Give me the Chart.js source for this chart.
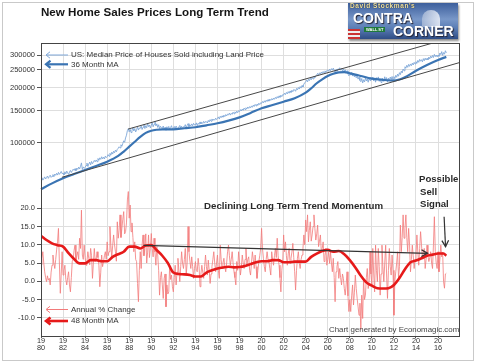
<!DOCTYPE html>
<html>
<head>
<meta charset="utf-8">
<script src="https://cdn.jsdelivr.net/npm/chart.js@4.4.1/dist/chart.umd.min.js"></script>
<style>
  body { margin: 0; background: #fff; }
  #wrap { position: relative; width: 480px; height: 364px; overflow: hidden; font-family: "Liberation Sans", Arial, sans-serif; }
  #chart { position: absolute; left: 0; top: 0; }
  .frame { position: absolute; left: 2px; top: 2px; width: 472px; height: 359px; border: 1px solid #c9c9c9; box-sizing: border-box; pointer-events: none; }
  .title { position: absolute; left: 41px; top: 5px; font-weight: bold; font-size: 11.6px; line-height: 14px; color: #151515; white-space: nowrap; }
  .logo { position: absolute; left: 348px; top: 3px; width: 110px; height: 36px; overflow: hidden;
          background: linear-gradient(180deg, #3d5f9c 0%, #7897c8 45%, #5a7db5 70%, #2f4d85 100%);
          box-shadow: 1px 2px 2px rgba(0,0,0,0.45); }
  .logo span { position: absolute; white-space: nowrap; font-weight: bold; }
  .logo .dome { left: 74px; top: 7px; width: 18px; height: 17px; border-radius: 50% 50% 8% 8%; background: linear-gradient(90deg, rgba(200,210,228,0.55), rgba(245,247,252,0.8)); }
  .logo .by { left: 2px; top: -1px; font-size: 6.5px; color: #f3e6a8; letter-spacing: 0.6px; text-shadow: 0 0 1px #000; }
  .logo .contra { left: 5px; top: 7px; font-size: 14px; color: #fff; text-shadow: 1px 1px 1px #223; }
  .logo .corner { left: 45px; top: 20px; font-size: 14px; color: #fff; text-shadow: 1px 1px 1px #223; }
  .logo .sign { left: 16px; top: 24px; font-size: 4px; color: #fff; background: #1f7a3a; padding: 0 2px; line-height: 5px; }
  .logo .flag { left: 0; top: 26px; width: 12px; height: 10px; background: repeating-linear-gradient(180deg, #c33 0 2px, #eee 2px 4px); }
</style>
</head>
<body>
<div id="wrap">
  <canvas id="chart" width="480" height="364"></canvas>
  <div class="title">New Home Sales Prices Long Term Trend</div>
  <div class="logo">
    <span class="dome"></span>
    <span class="flag"></span>
    <span class="by">David Stockman's</span>
    <span class="contra">CONTRA</span>
    <span class="sign">WALL ST</span>
    <span class="corner">CORNER</span>
  </div>
  <div class="frame"></div>
</div>

<script>
  // monthly series start in January 1980
  const START_YEAR = 1980;

  // US median price of new houses sold, monthly (dollars)
  const priceRaw = [
    63500, 64800, 62900, 64100, 65500, 63800, 64900, 66200, 64300, 65800, 66900, 65100, // 1980
    66000, 67400, 65600, 67900, 66800, 68500, 67000, 69300, 67600, 68800, 70100, 68200, // 1981
    68600, 67200, 69800, 68000, 70400, 68900, 67500, 69600, 71000, 69200, 70700, 72100, // 1982
    71000, 72600, 70800, 73100, 71900, 74000, 72300, 74800, 78000, 71800, 74200, 72900, // 1983
    73700, 75500, 77800, 74600, 76900, 78800, 76100, 79400, 77200, 78600, 80500, 79100, // 1984
    80900, 79200, 82400, 80600, 83100, 81500, 84200, 82000, 83800, 81900, 84900, 83300, // 1985
    84300, 86500, 84800, 87900, 86000, 89200, 87100, 90300, 88400, 91500, 89600, 92400, // 1986
    93600, 95400, 94100, 97800, 96000, 99500, 102800, 100900, 106500, 110200, 116800, 119500, // 1987
    115000, 118600, 113900, 117400, 121000, 116200, 119800, 114800, 118000, 122300, 117500, 120600, // 1988
    120000, 123500, 118400, 121900, 126000, 119800, 124100, 121000, 127500, 122600, 125200, 120800, // 1989
    125000, 128900, 122400, 126300, 131500, 123800, 127000, 121500, 125600, 119900, 123200, 121000, // 1990
    120000, 123600, 118200, 121800, 117400, 122500, 119600, 123000, 118800, 121200, 124100, 119300, // 1991
    120000, 122900, 119500, 123600, 120400, 118700, 122000, 124500, 120900, 123300, 119800, 122600, // 1992
    122500, 125800, 121000, 124600, 127300, 122900, 125500, 123800, 126900, 124000, 127800, 125200, // 1993
    125000, 128600, 124200, 127900, 126300, 130100, 126900, 129400, 127600, 131000, 128200, 130800, // 1994
    130500, 128400, 132600, 130000, 133900, 131200, 135000, 132400, 134600, 132900, 136300, 134100, // 1995
    136000, 138500, 134800, 139600, 137200, 140300, 138100, 141500, 139000, 142600, 140100, 143400, // 1996
    142000, 145300, 141600, 144800, 143100, 146900, 144000, 147500, 145200, 148800, 146000, 149600, // 1997
    148000, 151700, 149200, 152900, 150400, 154600, 151800, 155300, 153000, 156800, 154100, 157500, // 1998
    155000, 158900, 156200, 160400, 157800, 161900, 159000, 162700, 160100, 164300, 161500, 165200, // 1999
    164000, 167800, 165100, 169400, 166300, 170600, 167900, 171800, 168700, 172900, 170200, 174000, // 2000
    171000, 175400, 172600, 176800, 173900, 178500, 175200, 180100, 176900, 181600, 178300, 183000, // 2001
    182000, 186400, 183100, 188000, 184700, 189900, 186200, 191500, 188000, 193200, 189600, 195100, // 2002
    194000, 190800, 197500, 194200, 199800, 196100, 202300, 198400, 205000, 201200, 208600, 211900, // 2003
    215000, 219800, 214600, 221500, 217900, 224300, 220100, 226800, 222400, 229700, 225300, 231000, // 2004
    234000, 238600, 232900, 240200, 236100, 242500, 238000, 244100, 239600, 246000, 241800, 247300, // 2005
    249000, 244600, 251300, 246900, 253000, 248200, 254600, 247500, 241800, 250400, 245100, 252000, // 2006
    251000, 255900, 248300, 253700, 246200, 251900, 244800, 249600, 240300, 246500, 236900, 231400, // 2007
    239000, 233200, 241500, 230600, 236800, 228400, 234100, 225700, 231900, 222000, 227400, 218600, // 2008
    215000, 223800, 211600, 220400, 214200, 225100, 216900, 222700, 213500, 224600, 218000, 226300, // 2009
    220000, 227500, 216800, 224900, 213700, 226100, 219400, 228200, 215900, 223600, 212800, 225000, // 2010
    222000, 215400, 228600, 219100, 226300, 213900, 224800, 217500, 227900, 220600, 229400, 218700, // 2011
    229000, 223500, 232800, 227100, 236400, 230200, 240600, 234900, 245300, 239800, 251700, 246200, // 2012
    259000, 254600, 263800, 257200, 266900, 260400, 268300, 262500, 271000, 264800, 273600, 268100, // 2013
    276000, 270500, 280400, 273800, 284100, 277600, 282900, 275300, 286700, 279200, 288400, 281800, // 2014
    288000, 282600, 292400, 285900, 295800, 289300, 298100, 290700, 302500, 294000, 299600, 292800, // 2015
    300000, 295200, 307600, 301400, 312900, 298700, 309300, 303000, 316400, 307800                  // 2016
  ];

  // 36 month moving average of the price
  const priceMAYears = [1980, 1981, 1982, 1983, 1984, 1985, 1986, 1987, 1987.5, 1988, 1988.5, 1989, 1989.5, 1990, 1990.5,
    1991, 1992, 1993, 1994, 1995, 1996, 1997, 1998, 1999, 2000, 2001, 2002, 2003, 2004, 2004.5, 2005, 2005.5, 2006,
    2006.5, 2007, 2007.5, 2008, 2008.5, 2009, 2010, 2011, 2012, 2012.5, 2013, 2014, 2015, 2016, 2016.75];
  const priceMA = [56100, 60400, 64400, 67900, 71400, 75100, 79200, 85100, 89800, 95500, 101600, 108000, 113500, 116600, 118000,
    118600, 118600, 120200, 121700, 124700, 127900, 132200, 137700, 145500, 154300, 160700, 167500, 174800, 187500, 198000, 210900, 221500, 230900,
    237500, 241700, 242500, 238800, 235000, 230900, 223400, 219900, 217900, 221000, 227100, 246600, 264900, 282000, 293000];

  // annual % change, monthly
  const pctRaw = [
    4.5, 6.3, 8.1, 5.0, 2.6, 1.0, -0.1, 1.5, 0.3, 0.8, -1.0, 2.5,       // 1980
    4.4, 7.2, 5.0, 3.5, 6.0, 8.6, 10.8, 14.5, 5.0, -3.3, 2.0, 8.1,      // 1981
    1.7, 3.0, 4.4, 0.5, -1.0, 1.0, 2.6, -1.0, -2.9, 1.0, 5.4, 6.0,      // 1982
    8.5, 9.9, 5.4, 7.0, 8.1, 6.0, 11.8, 9.0, 19.5, 7.2, 6.0, 9.9,       // 1983
    6.5, 4.4, 5.5, 8.1, 6.3, 4.5, 9.0, 7.0, 0.8, 5.0, 9.0, 5.4,         // 1984
    6.0, 8.1, 6.5, 4.4, -1.5, 2.5, 7.2, 4.0, 5.4, 7.0, 8.1, 6.0,        // 1985
    10.8, 7.0, 8.1, 15.0, 9.9, 6.5, 9.9, 12.7, 10.0, 8.1, 5.5, 16.3,    // 1986
    11.8, 14.0, 18.2, 12.0, 14.5, 17.0, 19.1, 13.0, 13.6, 16.0, 22.3, 24.6, // 1987
    17.3, 20.9, 13.6, 16.0, 12.0, 8.1, 10.8, 6.0, 5.4, -0.6, -5.6, 3.0, // 1988
    8.1, 3.5, 10.0, 12.7, 7.0, 9.0, 13.0, 5.0, 8.0, 12.7, 6.5, 9.0,     // 1989
    13.1, 9.0, 6.7, 11.8, 8.0, 4.4, 9.5, 7.2, 3.0, -3.8, 1.0, 2.6,      // 1990
    -1.0, -4.7, 0.8, 2.0, -7.0, -1.0, -3.5, -2.9, 4.4, 0.5, 1.7, -1.5,  // 1991
    -2.9, 1.0, 4.4, -1.0, 2.5, 6.3, 3.0, -0.1, 4.0, 8.1, 5.0, 3.5,      // 1992
    6.0, 9.0, 1.7, 5.0, 15.0, 8.1, 5.5, 3.5, 6.7, 4.0, 0.8, 3.5,        // 1993
    5.4, 3.0, 2.6, 6.3, 4.0, -1.5, 2.0, 4.4, 2.5, 0.8, 4.0, 7.2,        // 1994
    4.0, 1.7, 5.8, 3.0, -0.6, 2.0, 4.0, 6.0, 8.1, 5.0, 2.6, 5.0,        // 1995
    7.2, 3.0, 0.8, 9.9, 6.0, 3.5, 5.0, 6.3, 4.0, 2.6, 5.0, 8.1,         // 1996
    9.9, 7.0, 4.4, 6.0, 8.1, 5.0, 2.6, 1.0, -1.0, 5.4, 3.0, 8.1,        // 1997
    5.0, 1.7, 4.0, 7.2, 5.0, 3.5, 6.0, 9.0, 4.4, 6.0, 6.7, 3.0,         // 1998
    1.7, 5.0, 8.1, 6.0, 3.5, 7.2, 4.0, 0.8, 3.0, 5.4, 7.0, 9.0,         // 1999
    14.5, 9.0, 6.3, 4.0, 2.6, 6.0, 8.1, 6.0, 5.4, 3.5, 1.7, 8.1,        // 2000
    6.0, 4.4, 7.0, 9.0, 6.5, 11.8, 7.0, 4.4, 1.0, -2.9, 3.0, 5.4,       // 2001
    12.7, 8.1, 10.8, 7.0, 4.4, 7.5, 9.0, 5.0, 6.3, 8.0, 10.4, 6.5,      // 2002
    2.6, -2.4, 3.0, 6.3, 8.1, 5.0, 3.5, 6.0, 7.2, 9.0, 12.7, 10.0,      // 2003
    16.8, 13.6, 18.2, 10.8, 14.0, 16.3, 11.0, 12.7, 15.0, 18.2, 14.5, 11.3, // 2004
    13.0, 15.4, 9.5, 11.0, 12.7, 8.1, 9.0, 10.8, 5.4, 7.0, 9.0, 4.4,    // 2005
    6.0, 8.1, 4.9, 8.1, 5.0, 2.6, 6.3, 1.0, -5.6, 2.6, 4.0, 5.4,        // 2006
    0.8, 3.5, 1.0, -1.0, 2.0, 0.8, -2.0, -3.8, -1.0, 2.6, -4.0, -8.3,   // 2007
    -5.0, -8.3, -4.0, -1.0, -6.5, -3.0, 1.7, -2.0, -4.7, -7.0, -9.3, -6.0, // 2008
    -13.2, -3.8, -10.2, 0.8, -5.0, -3.8, 1.0, 3.5, -2.0, -0.1, 8.1, 2.0, // 2009
    -1.0, 9.0, 2.0, -2.9, 9.9, 3.0, -0.1, 9.0, 4.0, -3.8, 2.0, 9.9,     // 2010
    4.0, -0.1, 5.0, 9.9, 2.0, -4.7, 3.0, 9.0, 4.0, 1.7, 7.2, 3.0,       // 2011
    -9.3, 0.0, 2.6, 5.0, 8.1, 0.8, 4.0, 15.4, 8.1, 12.0, 18.2, 11.8,    // 2012
    14.5, 18.2, 12.0, 8.1, 14.5, 10.0, 2.6, 6.0, 9.9, 7.0, 3.5, 6.0,    // 2013
    7.2, 12.7, 8.0, 4.4, 9.0, 13.6, 10.0, 6.3, 8.0, 9.0, 3.5, 6.0,      // 2014
    9.9, 7.0, 5.4, 6.5, 8.1, 5.0, 3.5, 10.0, 17.7, 8.1, 5.0, 3.5,       // 2015
    8.1, 2.6, 6.0, 9.9, 6.7, 8.0, -0.1, -1.9, 2.0, 2.2                  // 2016
  ];

  // 48 month moving average of the annual % change
  const pctMAYears = [1980, 1980.5, 1981, 1981.5, 1982, 1982.5, 1983, 1983.5, 1984, 1984.5, 1985, 1985.5, 1986, 1986.5,
    1987, 1987.5, 1988, 1988.5, 1989, 1989.5, 1990, 1990.5, 1991, 1991.5, 1992, 1992.5, 1993, 1993.5, 1994, 1994.5,
    1995, 1995.5, 1996, 1996.5, 1997, 1997.5, 1998, 1998.5, 1999, 1999.5, 2000, 2000.5, 2001, 2001.5, 2002, 2002.5,
    2003, 2003.5, 2004, 2004.5, 2005, 2005.5, 2006, 2006.5, 2007, 2007.5, 2008, 2008.5, 2009, 2009.5, 2010, 2010.5,
    2011, 2011.5, 2012, 2012.5, 2013, 2013.5, 2014, 2014.5, 2015, 2015.5, 2016, 2016.5, 2016.75];
  const pctMA = [12.5, 11.3, 10.4, 9.9, 9.5, 7.7, 6.1, 4.9, 4.9, 5.8, 5.8, 5.5, 5.5, 6.7,
    7.4, 8.1, 9.5, 9.5, 9.0, 9.8, 9.9, 8.5, 7.0, 5.0, 2.4, 2.0, 1.9, 1.7, 1.3, 1.3,
    2.4, 3.0, 3.5, 3.8, 4.0, 3.8, 3.9, 4.2, 4.7, 5.2, 5.5, 5.5, 5.8, 5.8, 5.2, 5.2,
    5.4, 5.4, 5.4, 6.7, 7.6, 8.3, 8.6, 8.1, 8.3, 7.4, 5.8, 3.8, 1.5, -0.3, -1.2, -1.9,
    -2.0, -1.9, -1.0, 0.9, 3.3, 5.2, 5.7, 6.3, 7.0, 7.3, 7.6, 7.6, 7.0];

  // hand drawn trend lines
  const upperChannelX = [1987.9, 2015.5];
  const upperChannelY = [119000, 348000];
  const lowerChannelX = [1981.9, 2017.9];
  const lowerChannelY = [65200, 272500];
  const momentumArrowX = [1989.3, 2015.05];
  const momentumArrowY = [9.85, 7.66];
  const sellArrowX = [2016.55, 2016.68];
  const sellArrowY = [17.7, 9.5];

  // axis ticks
  const yearTicks = [1980, 1982, 1984, 1986, 1988, 1990, 1992, 1994, 1996, 1998, 2000, 2002, 2004, 2006, 2008, 2010, 2012, 2014, 2016];
  const priceTicks = [100000, 150000, 200000, 250000, 300000];
  const pctTicks = [-10, -5, 0, 5, 10, 15, 20];

  const pairs = (xs, ys) => xs.map((x, i) => ({ x: x, y: ys[i] }));
  const monthly = vals => vals.map((v, i) => ({ x: START_YEAR + i / 12, y: v }));

  Chart.defaults.font.family = "'Liberation Sans', Arial, sans-serif";

  function drawLegendArrow(ctx, x0, x1, y, color, width, head) {
    ctx.save();
    ctx.strokeStyle = color;
    ctx.lineWidth = width;
    ctx.beginPath();
    ctx.moveTo(x0 + 1, y);
    ctx.lineTo(x1, y);
    ctx.stroke();
    ctx.beginPath();
    ctx.moveTo(x0 + head, y - head * 0.8);
    ctx.lineTo(x0, y);
    ctx.lineTo(x0 + head, y + head * 0.8);
    ctx.stroke();
    ctx.restore();
  }

  const overlay = {
    id: 'overlay',
    afterDatasetsDraw(chart) {
      const ctx = chart.ctx;
      chart.data.datasets.forEach((ds, i) => {
        if (!ds.arrowHead) return;
        const pts = chart.getDatasetMeta(i).data;
        const a = pts[pts.length - 2], b = pts[pts.length - 1];
        const ang = Math.atan2(b.y - a.y, b.x - a.x);
        ctx.save();
        ctx.strokeStyle = ds.borderColor;
        ctx.lineWidth = 1.3;
        ctx.beginPath();
        ctx.moveTo(b.x - 7 * Math.cos(ang - 0.5), b.y - 7 * Math.sin(ang - 0.5));
        ctx.lineTo(b.x, b.y);
        ctx.lineTo(b.x - 7 * Math.cos(ang + 0.5), b.y - 7 * Math.sin(ang + 0.5));
        ctx.stroke();
        ctx.restore();
      });
    },
    afterDraw(chart) {
      const ctx = chart.ctx;
      const area = chart.chartArea;
      const ds = chart.data.datasets;

      // box round the plot
      ctx.save();
      ctx.strokeStyle = '#444';
      ctx.lineWidth = 1;
      ctx.strokeRect(Math.round(area.left) + 0.5, Math.round(area.top) + 0.5,
        Math.round(area.right - area.left), Math.round(area.bottom - area.top));
      ctx.restore();

      // legends inside the plot
      const legends = [
        { ds: ds[0], y: area.top + 12, head: 4 },
        { ds: ds[1], y: area.top + 21.3, head: 4.5 },
        { ds: ds[2], y: area.bottom - 26.5, head: 4 },
        { ds: ds[3], y: area.bottom - 15, head: 4.5 }
      ];
      ctx.save();
      ctx.font = "8px 'Liberation Sans', Arial, sans-serif";
      ctx.textBaseline = 'middle';
      legends.forEach(l => {
        drawLegendArrow(ctx, area.left + 5, area.left + 27, l.y, l.ds.borderColor, Math.max(1, l.ds.borderWidth), l.head);
        ctx.fillStyle = '#333';
        ctx.fillText(l.ds.label, area.left + 30, l.y);
      });

      ctx.fillStyle = '#2a2a2a';
      ctx.font = "bold 9.7px 'Liberation Sans', Arial, sans-serif";
      ctx.fillText('Declining Long Term Trend Momentum', 204, 206);
      ctx.font = "bold 9.6px 'Liberation Sans', Arial, sans-serif";
      ctx.fillText('Possible', 419, 179.5);
      ctx.fillText('Sell', 420, 192);
      ctx.fillText('Signal', 420, 204.3);

      ctx.fillStyle = '#444';
      ctx.font = "7.9px 'Liberation Sans', Arial, sans-serif";
      ctx.fillText('Chart generated by Economagic.com', 329, 329.5);
      ctx.restore();
    }
  };

  new Chart(document.getElementById('chart'), {
    type: 'line',
    data: {
      datasets: [
        {
          label: 'US: Median Price of Houses Sold including Land Price',
          data: monthly(priceRaw), yAxisID: 'y',
          borderColor: '#7ea7d8', borderWidth: 0.9, pointRadius: 0, order: 4, clip: false
        },
        {
          label: '36 Month MA',
          data: pairs(priceMAYears, priceMA), yAxisID: 'y',
          borderColor: '#3a74b3', borderWidth: 2.2, pointRadius: 0, cubicInterpolationMode: 'monotone', order: 3, clip: false
        },
        {
          label: 'Annual % Change',
          data: monthly(pctRaw), yAxisID: 'y2',
          borderColor: '#f27a7a', borderWidth: 0.8, pointRadius: 0, order: 6, clip: false
        },
        {
          label: '48 Month MA',
          data: pairs(pctMAYears, pctMA), yAxisID: 'y2',
          borderColor: '#e61a1a', borderWidth: 2.6, pointRadius: 0, cubicInterpolationMode: 'monotone', order: 5
        },
        {
          label: 'upper channel', data: pairs(upperChannelX, upperChannelY), yAxisID: 'y',
          borderColor: '#474747', borderWidth: 1, pointRadius: 0, order: 1
        },
        {
          label: 'lower channel', data: pairs(lowerChannelX, lowerChannelY), yAxisID: 'y',
          borderColor: '#474747', borderWidth: 1, pointRadius: 0, order: 1
        },
        {
          label: 'momentum', data: pairs(momentumArrowX, momentumArrowY), yAxisID: 'y2',
          borderColor: '#333', borderWidth: 1.2, pointRadius: 0, order: 1, arrowHead: true
        },
        {
          label: 'sell', data: pairs(sellArrowX, sellArrowY), yAxisID: 'y2',
          borderColor: '#333', borderWidth: 1.2, pointRadius: 0, order: 1, arrowHead: true
        }
      ]
    },
    options: {
      responsive: false,
      animation: false,
      devicePixelRatio: 1,
      layout: { padding: { top: 43, right: 21, bottom: 8, left: 0 } },
      plugins: { legend: { display: false }, tooltip: { enabled: false }, title: { display: false } },
      scales: {
        x: {
          type: 'linear', min: 1980, max: 2017.9,
          afterBuildTicks: s => { s.ticks = yearTicks.map(v => ({ value: v })); },
          afterFit: s => { s.height = 20; },
          ticks: {
            autoSkip: false, maxRotation: 0, padding: 0, color: '#333',
            font: { size: 7.3, lineHeight: 0.9 },
            callback: v => [String(v).slice(0, 2), String(v).slice(2)]
          },
          grid: { color: '#dedede', tickColor: '#555', tickLength: 2 },
          border: { color: '#444' }
        },
        // % change panel: lower part of the left column
        y2: {
          type: 'linear', position: 'left', stack: 'left', stackWeight: 146,
          min: -15, max: 25.02,
          afterBuildTicks: s => { s.ticks = pctTicks.map(v => ({ value: v })); },
          afterFit: s => { s.width = 41; },
          ticks: { autoSkip: false, padding: 2, color: '#333', font: { size: 7.5 }, callback: v => v.toFixed(1) },
          grid: { color: '#dedede', tickColor: '#555', tickLength: 4 },
          border: { color: '#444' }
        },
        // price panel: upper part of the left column
        y: {
          type: 'logarithmic', position: 'left', stack: 'left', stackWeight: 147,
          min: 55610, max: 348500,
          afterBuildTicks: s => { s.ticks = priceTicks.map(v => ({ value: v })); },
          afterFit: s => { s.width = 41; },
          ticks: { autoSkip: false, padding: 2, color: '#333', font: { size: 7.5 }, callback: v => String(v) },
          grid: { color: '#dedede', tickColor: '#555', tickLength: 4 },
          border: { color: '#444' }
        }
      }
    },
    plugins: [overlay]
  });
</script>
</body>
</html>
